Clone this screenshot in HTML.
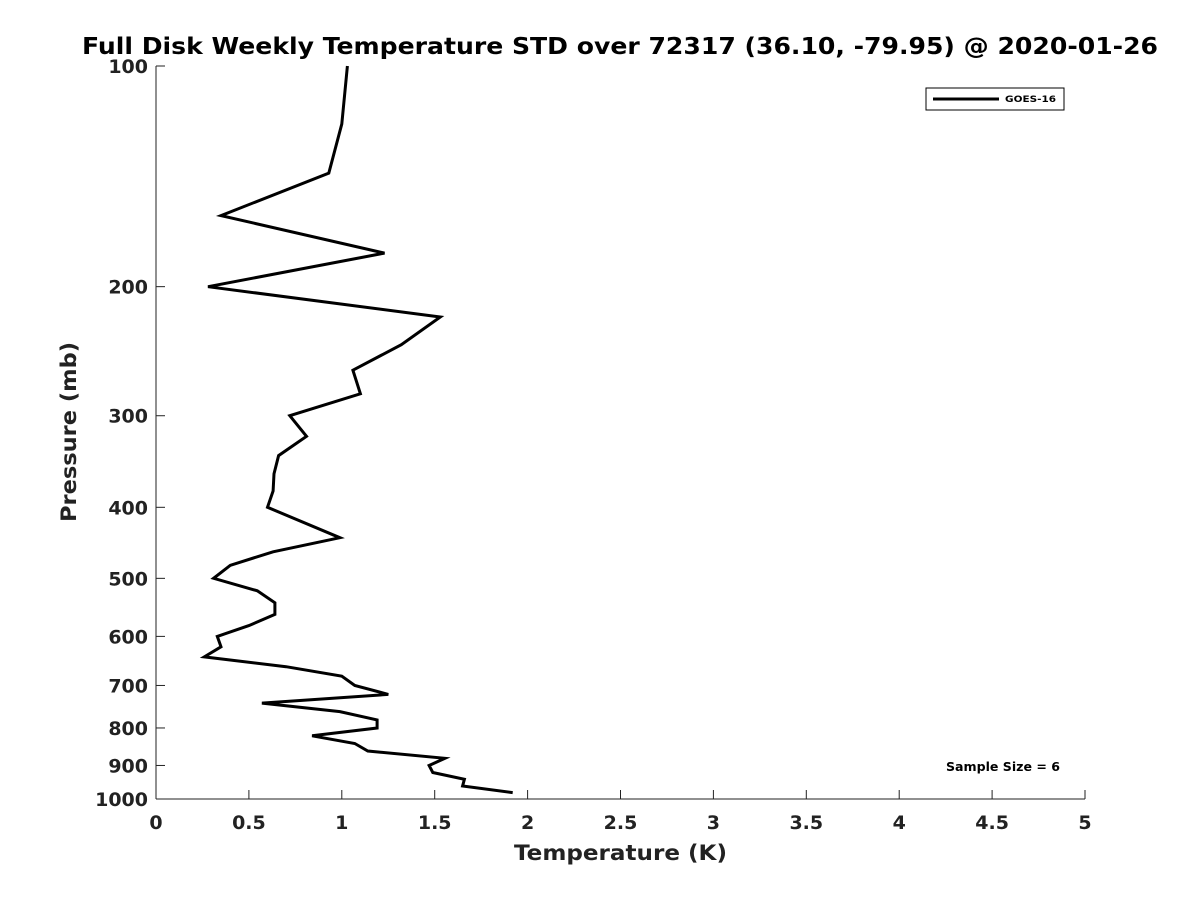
<!DOCTYPE html>
<html><head><meta charset="utf-8"><style>
body{margin:0;background:#fff}
text{font-family:"DejaVu Sans","Liberation Sans",sans-serif;font-weight:bold;fill:#222}
</style></head><body>
<svg id="chart" width="1200" height="900" xmlns="http://www.w3.org/2000/svg">
<rect width="1200" height="900" fill="#fff"/>
<text x="82" y="54" font-size="23" textLength="1076" lengthAdjust="spacingAndGlyphs" style="fill:#000">Full Disk Weekly Temperature STD over 72317 (36.10, -79.95) @ 2020-01-26</text>
<g id="axes"></g>
<text x="514" y="860" font-size="21" textLength="213" lengthAdjust="spacingAndGlyphs">Temperature (K)</text>
<text transform="translate(76,522) rotate(-90)" font-size="21" textLength="180" lengthAdjust="spacingAndGlyphs">Pressure (mb)</text>
<g>
<rect x="926" y="88" width="138" height="22" fill="#fff" stroke="#000" stroke-width="1"/>
<line x1="933" y1="99" x2="999" y2="99" stroke="#000" stroke-width="3"/>
<text x="1005" y="102" font-size="9" textLength="51" lengthAdjust="spacingAndGlyphs" style="fill:#000">GOES-16</text>
</g>
<text x="946" y="771" font-size="12" textLength="114" lengthAdjust="spacingAndGlyphs" style="fill:#000">Sample Size = 6</text>
</svg>
<script>
const pressures=[100,120,140,160,180,200,220,240,260,280,300,320,340,360,380,400,440,460,480,500,520,540,560,580,600,620,640,660,680,700,720,740,760,780,800,820,840,860,880,900,920,940,960,980];
const tempStd=[1.03,1.00,0.93,0.35,1.23,0.28,1.53,1.32,1.06,1.10,0.72,0.81,0.66,0.635,0.63,0.60,0.99,0.63,0.40,0.31,0.545,0.64,0.64,0.50,0.33,0.35,0.26,0.70,1.00,1.07,1.25,0.57,0.99,1.19,1.19,0.84,1.07,1.14,1.555,1.47,1.49,1.66,1.65,1.92];
const xTicks=[0,0.5,1,1.5,2,2.5,3,3.5,4,4.5,5];
const yTicks=[100,200,300,400,500,600,700,800,900,1000];
const X0=156,X1=1085,Y0=66,Y1=799;
const xs=v=>X0+(v/5)*(X1-X0);
const ys=p=>Y0+Math.log10(p/100)*(Y1-Y0);
const NS="http://www.w3.org/2000/svg";
const svg=document.getElementById('chart');
const axes=document.getElementById('axes');
function mk(t,a,parent){const e=document.createElementNS(NS,t);for(const k in a)e.setAttribute(k,a[k]);(parent||axes).appendChild(e);return e;}
const yl=mk('line',{x1:X0,y1:Y0,x2:X0,y2:Y1,stroke:'#222','stroke-width':1});


const xl=mk('line',{x1:X0,y1:Y1,x2:X1,y2:Y1,stroke:'#222','stroke-width':1});


xTicks.forEach(v=>{
  const x=xs(v);
  mk('line',{x1:x,y1:Y1,x2:x,y2:Y1-9,stroke:'#222','stroke-width':1});
  const t=mk('text',{x:x,y:829,'text-anchor':'middle','font-size':19});
  t.textContent=String(v);
  
  
});
yTicks.forEach(p=>{
  const y=ys(p);
  mk('line',{x1:X0,y1:y,x2:X0+9,y2:y,stroke:'#222','stroke-width':1});
  const t=mk('text',{x:148,y:y+7,'text-anchor':'end','font-size':19});
  t.textContent=String(p);
  
  
});
const pts=pressures.map((p,i)=>xs(tempStd[i]).toFixed(1)+','+ys(p).toFixed(1)).join(' ');
const line=mk('polyline',{points:pts,fill:'none',stroke:'#000','stroke-width':3,'stroke-linejoin':'miter'},svg);


</script>
</body></html>
